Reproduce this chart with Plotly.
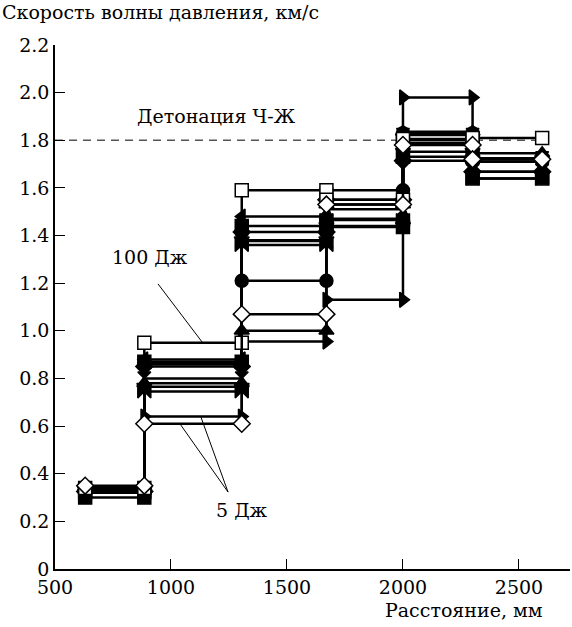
import plotly.graph_objects as go

# sensor positions, mm
sensors = [630, 885, 1305, 1670, 2000, 2300, 2600]

# segment velocities (km/s) for each series, between consecutive sensors
v_tri_left  = [0.335, 0.88, 1.48, 1.47, 1.788, 1.668]
v_tri_down  = [0.33, 0.765, 1.38, 1.44, 1.752, 1.71]
v_sq_fill   = [0.30, 0.87, 1.44, 1.436, 1.731, 1.64]
v_dia_fill  = [0.325, 0.85, 1.415, 1.55, 1.714, 1.668]
v_bowtie    = [0.32, 0.745, 1.36, 1.465, 1.80, 1.64]
v_hourglass = [0.33, 0.80, 1.377, 1.51, 1.822, 1.725]
v_tri_up    = [0.345, 0.78, 1.00, 1.53, 1.836, 1.746]
v_circle    = [0.34, 0.86, 1.21, 1.59, 1.83, 1.71]
v_tri_right = [0.33, 0.64, 0.955, 1.13, 1.98, 1.72]
v_sq_open   = [0.34, 0.95, 1.59, 1.55, 1.805, 1.81]   # 100 J
v_dia_open  = [0.35, 0.61, 1.07, 1.53, 1.78, 1.72]    # 5 J

series = [
    (v_tri_left, "triangle-left", "black"),
    (v_tri_down, "triangle-down", "black"),
    (v_sq_fill, "square", "black"),
    (v_dia_fill, "diamond", "black"),
    (v_bowtie, "bowtie", "black"),
    (v_hourglass, "hourglass", "black"),
    (v_tri_up, "triangle-up", "black"),
    (v_circle, "circle", "black"),
    (v_tri_right, "triangle-right", "black"),
    (v_sq_open, "square", "white"),
    (v_dia_open, "diamond", "white"),
]

cj_velocity = 1.8
x_ticks = [500, 1000, 1500, 2000, 2500]
y_ticks = [0, 0.2, 0.4, 0.6, 0.8, 1.0, 1.2, 1.4, 1.6, 1.8, 2.0, 2.2]
y_ticktext = ["0", "0.2", "0.4", "0.6", "0.8", "1.0", "1.2", "1.4", "1.6", "1.8", "2.0", "2.2"]

FONT = "DejaVu Serif"
FS = 19

fig = go.Figure()

# CJ detonation dashed line
fig.add_trace(go.Scatter(x=[500, 2590], y=[cj_velocity, cj_velocity], mode="lines",
                         line=dict(color="#555555", width=1.5, dash="8px,6px"),
                         showlegend=False, hoverinfo="skip"))

for vals, sym, col in series:
    xs, ys = [], []
    for i, v in enumerate(vals):
        xs += [sensors[i], sensors[i + 1]]
        ys += [v, v]
    fig.add_trace(go.Scatter(
        x=xs, y=ys, mode="lines+markers",
        line=dict(color="black", width=2.5),
        marker=dict(symbol=sym, size=13, color=col,
                    line=dict(color="black", width=1.5)),
        showlegend=False))

# annotation leader lines
fig.add_shape(type="line", x0=944, y0=1.197, x1=1134, y1=0.953,
              line=dict(color="black", width=1))
fig.add_shape(type="line", x0=1246, y0=0.323, x1=1039, y1=0.609,
              line=dict(color="black", width=1))
fig.add_shape(type="line", x0=1246, y0=0.323, x1=1129, y1=0.638,
              line=dict(color="black", width=1))

fig.add_annotation(x=909, y=1.31, text="100 Дж", showarrow=False,
                   font=dict(family=FONT, size=FS, color="black"))
fig.add_annotation(x=1306, y=0.248, text="5 Дж", showarrow=False,
                   font=dict(family=FONT, size=FS, color="black"))
fig.add_annotation(x=1198, y=1.90, text="Детонация Ч-Ж", showarrow=False,
                   font=dict(family=FONT, size=FS, color="black"))

fig.add_annotation(xref="paper", yref="paper", x=-55 / 515, y=1 + 33 / 524,
                   xanchor="left", yanchor="middle", showarrow=False,
                   text="Скорость волны давления, км/с",
                   font=dict(family=FONT, size=FS, color="black"))
fig.add_annotation(xref="paper", yref="paper", x=490 / 515, y=-41 / 524,
                   xanchor="right", yanchor="middle", showarrow=False,
                   text="Расстояние, мм",
                   font=dict(family=FONT, size=FS, color="black"))

fig.update_layout(
    width=572, height=627,
    margin=dict(l=55, r=2, t=45, b=58),
    paper_bgcolor="white", plot_bgcolor="white",
    font=dict(family=FONT, size=FS, color="black"),
    xaxis=dict(range=[500, 2720], tickvals=x_ticks, ticks="inside", ticklen=10,
               tickwidth=1, tickcolor="black", showline=True, linecolor="black",
               linewidth=1.5, showgrid=False, zeroline=False,
               tickfont=dict(family=FONT, size=FS, color="black")),
    yaxis=dict(range=[0, 2.2], tickvals=y_ticks, ticktext=y_ticktext,
               ticks="inside", ticklen=10, tickwidth=1, tickcolor="black",
               showline=True, linecolor="black", linewidth=1.5,
               showgrid=False, zeroline=False,
               tickfont=dict(family=FONT, size=FS, color="black")),
)

fig.write_html("out.html")
